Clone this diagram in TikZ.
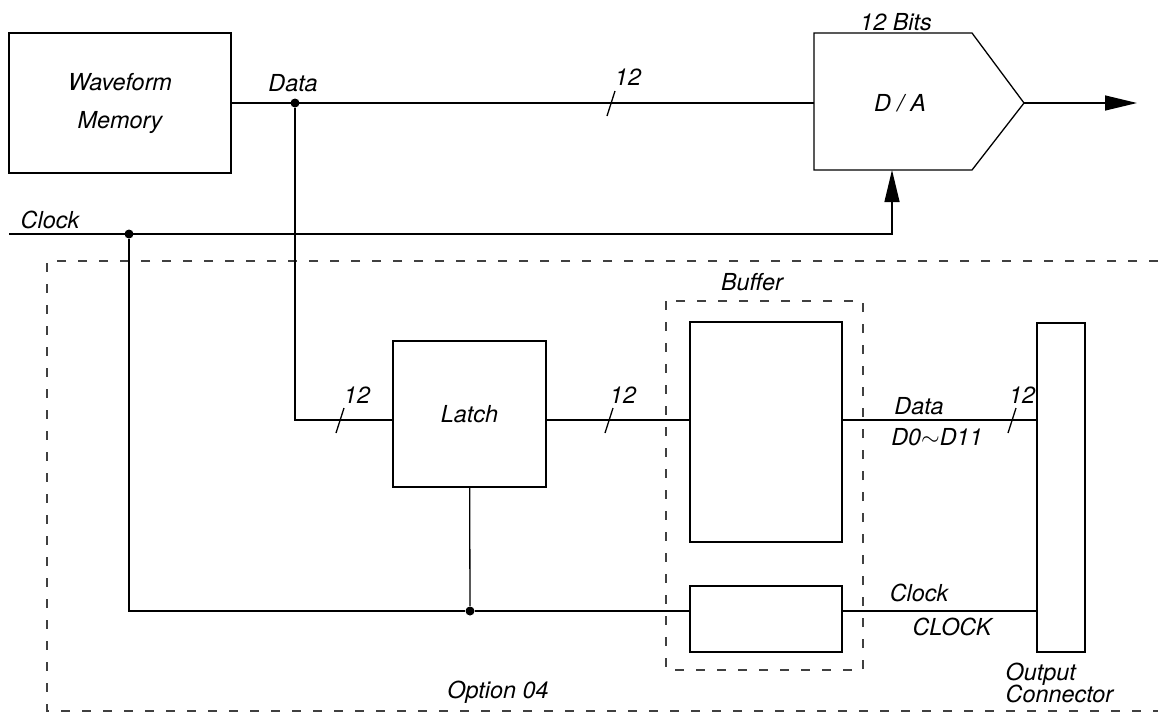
\documentclass[tikz,border=0pt]{standalone}
\usepackage{fontspec}
\setmainfont{TeX Gyre Heros}
\usetikzlibrary{arrows.meta, positioning}

\begin{document}
\begin{tikzpicture}[x=0.5pt, y=-0.5pt, line width=0.65pt,
    every node/.style={font=\fontsize{11.7}{19}\selectfont\itshape},
    unit/.style={draw, inner sep=0pt},
    dashbox/.style={draw=black!75, dash pattern=on 4.5pt off 6pt},
    dot/.style={circle, fill, inner sep=0pt, minimum size=4.5pt},
    arrowtip/.style={-{Triangle[length=16pt, width=7.5pt]}}]
    \useasboundingbox (0,0) rectangle (1161,713);

    \node[unit, minimum width=111pt, minimum height=70pt, align=center] (mem) at (120,103) {Waveform\\Memory};
    \coordinate (da-in) at (814,103);
    \coordinate (da-out) at (1024,103);
    \coordinate (da-clk) at (892,170);
    \coordinate (outend) at (1137,103);
    \draw (814,33) -- (972,33) -- (da-out) -- (972,170) -- (814,170) -- cycle;
    \node (da) at (900,103) {D / A};
    \node (bits) at (896,22) {12 Bits};

    \node[unit, minimum width=76.5pt, minimum height=73pt] (latch) at (469.5,414) {Latch};
    \node[unit, minimum width=76pt, minimum height=110pt] (buf) at (766,432) {};
    \node[unit, minimum width=76pt, minimum height=33pt] (bufclk) at (766,619) {};
    \node[unit, minimum width=24pt, minimum height=164.5pt] (conn) at (1061,487.5) {};
    \draw[dashbox] (666,301) rectangle (863,670);
    \draw[dashbox] (1158,261) -| (47,711) -- (1158,711);

    \node[dot] (ddot) at (295,103) {};
    \node[dot] (cdot) at (129,234) {};
    \node[dot] (bdot) at (470,611) {};
    \coordinate (clkin) at (9,234);
    \coordinate (dlvl) at (0,420);

    \draw (mem) -- (da-in);
    \draw[arrowtip] (da-out) -- (outend);
    \draw[arrowtip] (clkin) -| (da-clk);
    \draw (ddot) |- (latch.west |- dlvl);
    \draw (latch.east |- dlvl) -- (buf.west |- dlvl);
    \draw (buf.east |- dlvl) -- (conn.west |- dlvl);
    \draw (cdot) |- (bdot);
    \draw (latch) -- (bdot);
    \draw (bdot) -- (bufclk.west |- bdot);
    \draw (bufclk.east |- bdot) -- (conn.west |- bdot);

    \foreach \sx/\sy/\lx/\ly in {611/103/628/77, 340/420/357/395, 609/420/623/395, 1012/420/1022/395} {
      \draw (\sx-4,\sy+13) -- (\sx+4,\sy-12);
      \node (bus\sx) at (\lx,\ly) {12};
    }

    \node (datalbl) at (293,83) {Data};
    \node (clklbl) at (50,220) {Clock};
    \node (buflbl) at (752,282) {Buffer};
    \node (odata) at (919,406) {Data};
    \node (orange) at (937,437) {D0$\sim$D11};
    \node (oclk) at (919,593) {Clock};
    \node (oclock) at (952,627) {CLOCK};
    \node[anchor=base west, inner sep=0pt] (outlbl) at (1005,680) {Output};
    \node[anchor=base west, inner sep=0pt] (connlbl) at (1005,702) {Connector};
    \node (optlbl) at (498,692) {Option 04};
  \end{tikzpicture}
\end{document}
